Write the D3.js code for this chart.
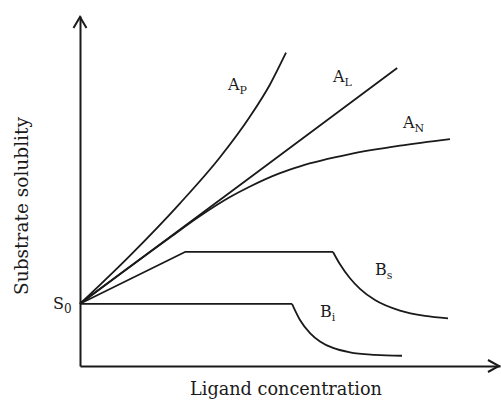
<!DOCTYPE html>
<html><head><meta charset="utf-8">
<script src="https://cdn.jsdelivr.net/npm/d3@7/dist/d3.min.js"></script>
<style>
html,body{margin:0;padding:0;background:#fff;}
svg{display:block;}
</style>
</head><body>
<svg id="chart" width="501" height="400"></svg>
<script>
// ---- data (arbitrary units) ----
const xTitle = "Ligand concentration";
const yTitle = "Substrate solublity";
const s0Value = 2;

const apX = [0, 1.25, 2.5, 3.5, 4.25, 4.75, 5.15];
const apY = [2, 3.55, 5.23, 6.71, 8.02, 9.05, 10.07];

const alX = [0, 4, 7.93];
const alY = [2, 5.82, 9.58];

const anX = [0, 2.25, 3, 3.75, 4.25, 5, 5.5, 6.75, 8, 9.25];
const anY = [2, 4.13, 4.82, 5.43, 5.77, 6.20, 6.42, 6.81, 7.08, 7.29];

const bsX = [0, 2.625, 6.325, 6.5, 6.75, 7.0, 7.375, 8.0, 8.625, 9.2];
const bsY = [2, 3.666, 3.666, 3.27, 2.82, 2.48, 2.12, 1.78, 1.61, 1.53];

const biX = [0, 5.3, 5.5, 5.75, 6.0, 6.325, 6.75, 7.375, 8.05];
const biY = [2, 2, 1.48, 1.06, 0.79, 0.58, 0.44, 0.36, 0.33];

const seriesMain = ["A", "A", "A", "B", "B"];
const seriesSub  = ["P", "L", "N", "s", "i"];

// ---- drawing ----
const FONT = "'DejaVu Serif', 'Liberation Serif', serif";
const svg = d3.select("#chart");
const x = d3.scaleLinear().domain([0, 10.5]).range([80, 500]);
const y = d3.scaleLinear().domain([0, 11.25]).range([366, 16]);
const ink = "#1a1a1a";

const zip = (a, b) => a.map((v, i) => [v, b[i]]);
const series = [
  {pts: zip(apX, apY), knee: 0},
  {pts: zip(alX, alY), knee: -1},
  {pts: zip(anX, anY), knee: 0},
  {pts: zip(bsX, bsY), knee: 2},
  {pts: zip(biX, biY), knee: 1}
];

// axes (domain lines only, no ticks)
const gx = svg.append("g").attr("transform", `translate(0,${y(0)})`)
  .call(d3.axisBottom(x).tickValues([]).tickSizeOuter(0));
const gy = svg.append("g").attr("transform", `translate(${x(0)},0)`)
  .call(d3.axisLeft(y).tickValues([]).tickSizeOuter(0));
[gx, gy].forEach(g => g.select(".domain").attr("stroke", ink).attr("stroke-width", 2));

// arrow heads
const xEnd = x(x.domain()[1]) - 1, yEnd = y(y.domain()[1]) + 1;
svg.append("path")
  .attr("d", `M${xEnd - 11},${y(0) - 6}L${xEnd},${y(0)}L${xEnd - 11},${y(0) + 6}`)
  .attr("fill", "none").attr("stroke", ink).attr("stroke-width", 2);
svg.append("path")
  .attr("d", `M${x(0) - 6.5},${yEnd + 11}L${x(0)},${yEnd}L${x(0) + 6.5},${yEnd + 11}`)
  .attr("fill", "none").attr("stroke", ink).attr("stroke-width", 2);

// curves
const lin = d3.line().x(d => x(d[0])).y(d => y(d[1])).curve(d3.curveLinear);
const smooth = d3.line().x(d => x(d[0])).y(d => y(d[1])).curve(d3.curveMonotoneX);

series.forEach((s, i) => {
  let d;
  if (s.knee < 0) d = lin(s.pts);
  else if (s.knee === 0) d = smooth(s.pts);
  else {
    const head = s.pts.slice(0, s.knee + 1);
    const tail = s.pts.slice(s.knee);
    d = lin(head) + smooth(tail);
  }
  svg.append("path").attr("d", d).attr("fill", "none")
    .attr("stroke", ink).attr("stroke-width", 1.8).attr("stroke-linejoin", "round");
});

// fit a text element to a target width
function fit(sel, target) {
  const len = sel.node().getComputedTextLength();
  const fs = +sel.attr("font-size");
  if (len > 0) sel.attr("font-size", (fs * target / len).toFixed(2));
  return sel;
}

// series labels
const labelAt = [[228, 90], [333, 82], [403, 128], [375, 275], [320, 317]];
seriesMain.forEach((m, i) => {
  const t = svg.append("text").attr("x", labelAt[i][0]).attr("y", labelAt[i][1])
    .attr("font-family", FONT).attr("fill", ink).attr("font-size", 16);
  t.append("tspan").text(m);
  t.append("tspan").attr("font-size", 11).attr("dy", 4).text(seriesSub[i]);
});

// S0 label
const s0 = svg.append("text").attr("x", 53).attr("y", y(s0Value) + 5)
  .attr("font-family", FONT).attr("fill", ink).attr("font-size", 16);
s0.append("tspan").text("S");
s0.append("tspan").attr("font-size", 12).attr("dy", 4).text("0");

// axis titles
fit(svg.append("text").attr("x", 286).attr("y", 395).attr("text-anchor", "middle")
  .attr("font-family", FONT).attr("fill", ink).attr("font-size", 20).text(xTitle), 192);
fit(svg.append("text").attr("transform", "translate(28,206) rotate(-90)")
  .attr("text-anchor", "middle").attr("font-family", FONT).attr("fill", ink)
  .attr("font-size", 20).text(yTitle), 178);
</script>
</body></html>
